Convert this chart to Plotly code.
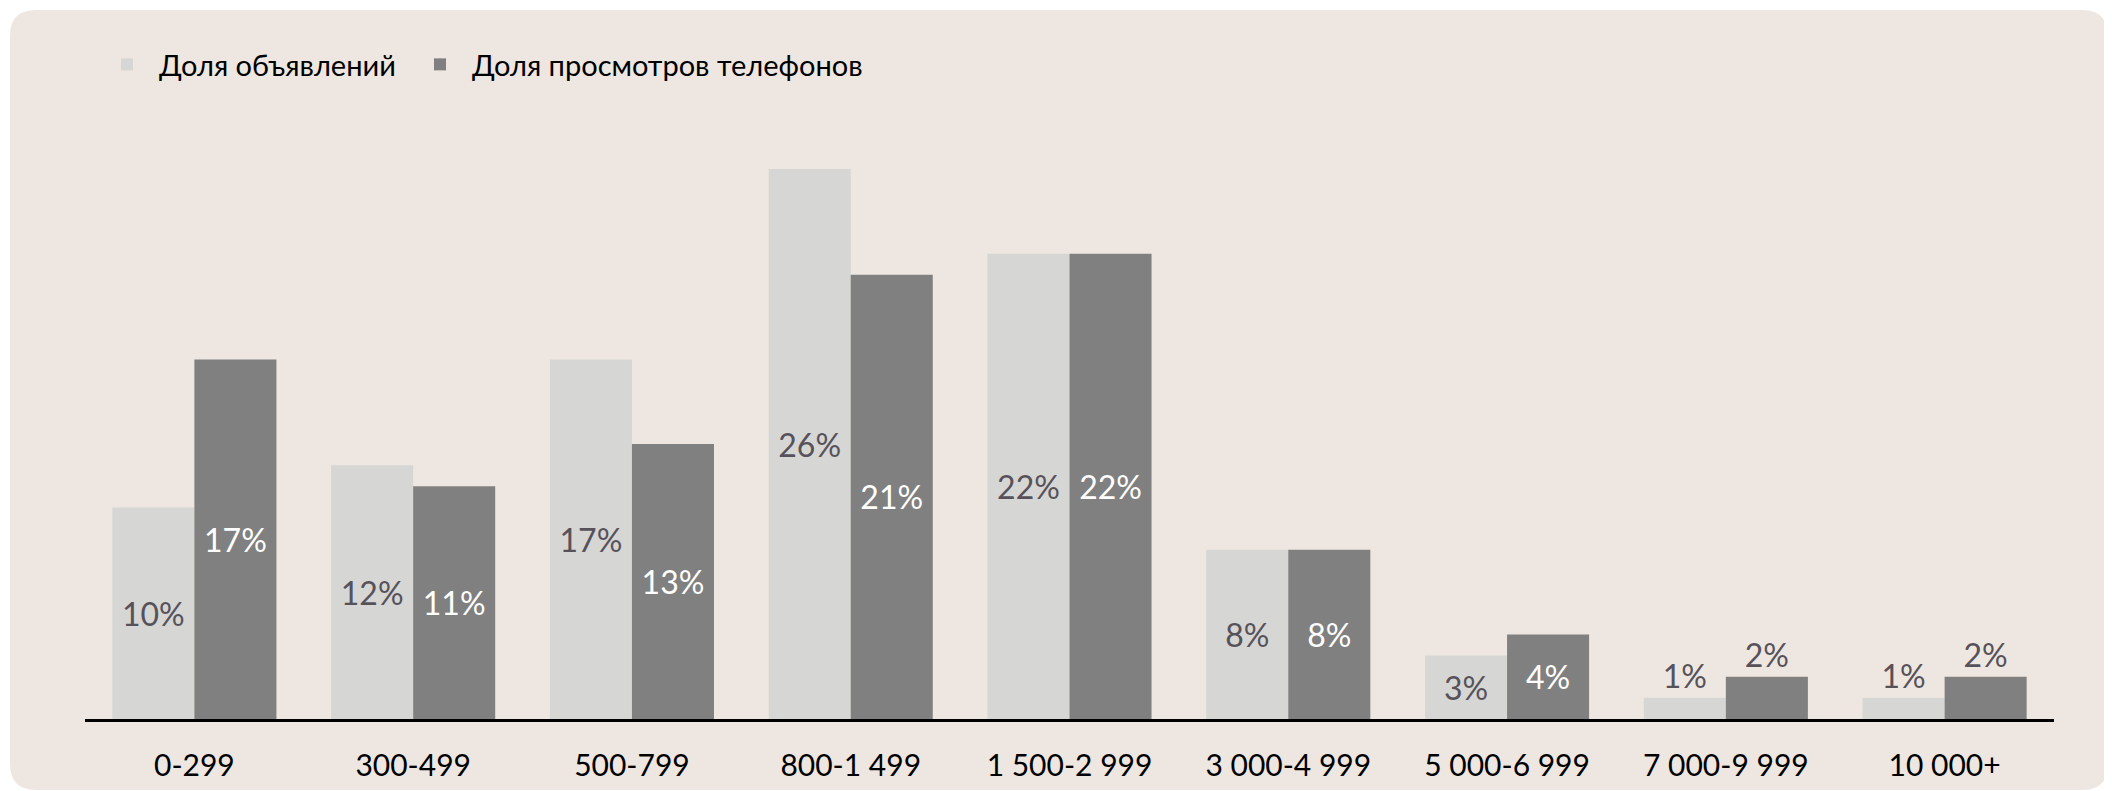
import plotly.graph_objects as go

categories = ["0-299", "300-499", "500-799", "800-1 499", "1 500-2 999",
              "3 000-4 999", "5 000-6 999", "7 000-9 999", "10 000+"]
share_listings = [10, 12, 17, 26, 22, 8, 3, 1, 1]
share_phone_views = [17, 11, 13, 21, 22, 8, 4, 2, 2]
series_names = ["Доля объявлений", "Доля просмотров телефонов"]

OFF = 8  # default body margin of the page
W, H = 2112 - OFF, 791 - OFF
ML = 85 - OFF
MR = W - (2054 - OFF)
MB = H - (719 - OFF)
MT = 2
PW, PH = W - ML - MR, H - MT - MB
PX_PER_PCT = 21.15
YMAX = PH / PX_PER_PCT
FONT = "Lato, 'Noto Sans', sans-serif"

def pos(vals):
    return ["inside" if v >= 3 else "outside" for v in vals]

fig = go.Figure()
fig.add_trace(go.Bar(
    x=categories, y=share_listings, name=series_names[0], legend="legend",
    showlegend=True,
    marker=dict(color="#D6D6D4", line=dict(width=0)),
    text=[f"{v}%" for v in share_listings], textposition=pos(share_listings),
    insidetextanchor="middle",
    insidetextfont=dict(family=FONT, size=32, color="#57525A"),
    outsidetextfont=dict(family=FONT, size=32, color="#57525A"),
    cliponaxis=False,
))
fig.add_trace(go.Bar(
    x=categories, y=share_phone_views, name=series_names[1], legend="legend2",
    showlegend=True,
    marker=dict(color="#808080", line=dict(width=0)),
    text=[f"{v}%" for v in share_phone_views], textposition=pos(share_phone_views),
    insidetextanchor="middle",
    insidetextfont=dict(family=FONT, size=32, color="#FFFFFF"),
    outsidetextfont=dict(family=FONT, size=32, color="#57525A"),
    cliponaxis=False,
))

# rounded background panel (screen px -> paper)
def px2x(px):
    return (px - OFF - ML) / PW
def py2y(py):
    return (H - MB - (py - OFF)) / PH

x0, x1, y0, y1, r = 10, 2108, 10, 790, 26
path = (f"M{px2x(x0 + r)},{py2y(y0)} L{px2x(x1 - r)},{py2y(y0)} "
        f"Q{px2x(x1)},{py2y(y0)} {px2x(x1)},{py2y(y0 + r)} "
        f"L{px2x(x1)},{py2y(y1 - r)} Q{px2x(x1)},{py2y(y1)} {px2x(x1 - r)},{py2y(y1)} "
        f"L{px2x(x0 + r)},{py2y(y1)} Q{px2x(x0)},{py2y(y1)} {px2x(x0)},{py2y(y1 - r)} "
        f"L{px2x(x0)},{py2y(y0 + r)} Q{px2x(x0)},{py2y(y0)} {px2x(x0 + r)},{py2y(y0)} Z")

legend_common = dict(orientation="h", xref="paper", yref="paper",
                     xanchor="left", yanchor="top", visible=True,
                     font=dict(family=FONT, size=29, color="#000000"),
                     bgcolor="rgba(0,0,0,0)", itemwidth=54)

fig.update_layout(
    width=W, height=H, showlegend=True,
    margin=dict(l=ML, r=MR, t=MT, b=MB, pad=0),
    paper_bgcolor="#FFFFFF", plot_bgcolor="rgba(0,0,0,0)",
    barmode="group", bargap=0.25, bargroupgap=0,
    font=dict(family=FONT, color="#000000"),
    shapes=[dict(type="path", path=path, xref="paper", yref="paper",
                 fillcolor="#EEE7E1", line=dict(width=0), layer="below")],
    legend=dict(x=px2x(95), y=py2y(39), **legend_common),
    legend2=dict(x=px2x(408), y=py2y(39), **legend_common),
    xaxis=dict(showline=True, linecolor="#000000", linewidth=2.5,
               ticks="", tickfont=dict(family=FONT, size=30, color="#000000"),
               ticklabelstandoff=18, showgrid=False, zeroline=False,
               automargin=False),
    yaxis=dict(range=[0, YMAX], visible=False, showgrid=False, zeroline=False,
               automargin=False),
)

fig.write_html("out.html")
